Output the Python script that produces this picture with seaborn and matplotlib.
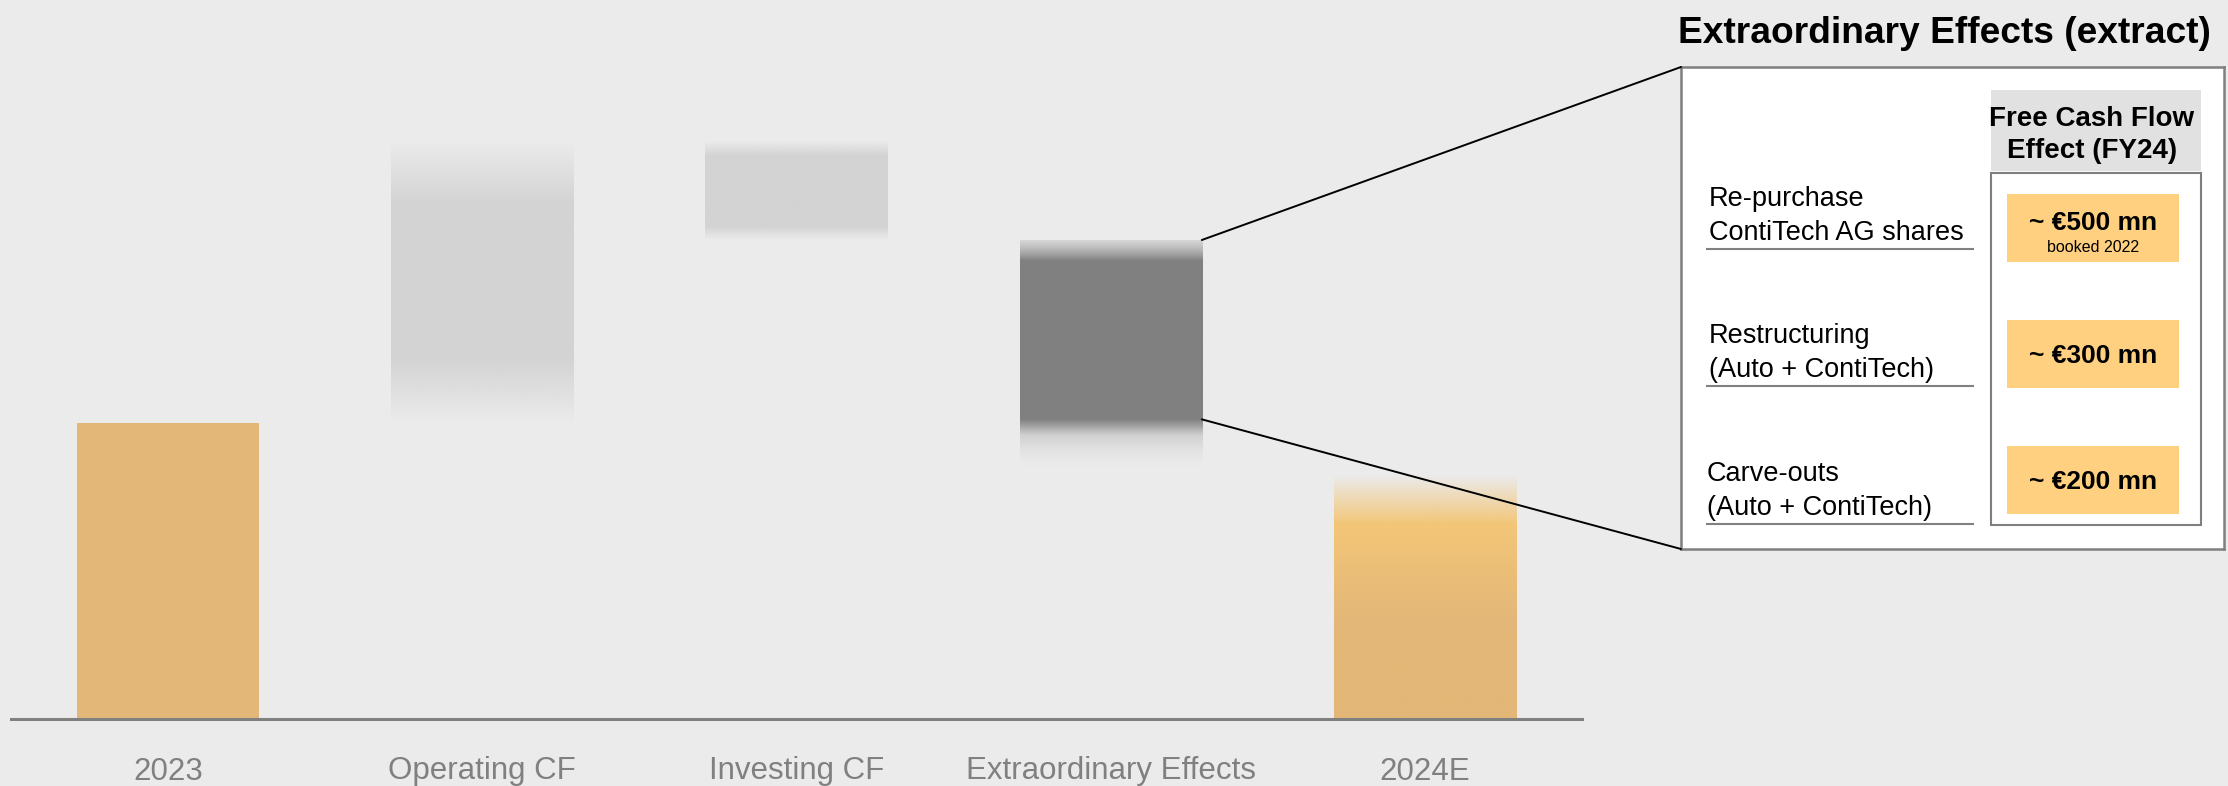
import numpy as np
import matplotlib
matplotlib.use("Agg")
import matplotlib.pyplot as plt
from matplotlib.colors import to_rgba
from matplotlib.patches import Rectangle, ConnectionPatch
import seaborn as sns

# waterfall (units, baseline = 0)
categories = ["2023", "Operating CF", "Investing CF", "Extraordinary Effects", "2024E"]
step_values = [2.96, 2.81, -0.98, -2.27, 2.44]
step_kind = ["total", "delta", "delta", "delta", "total"]

# extract table on the right
table_title = "Extraordinary Effects (extract)"
column_header = ["Free Cash Flow", "Effect (FY24)"]
effect_labels = [["Re-purchase", "ContiTech AG shares"],
                 ["Restructuring", "(Auto + ContiTech)"],
                 ["Carve-outs", "(Auto + ContiTech)"]]
effect_values = ["~ €500 mn", "~ €300 mn", "~ €200 mn"]
effect_notes = ["booked 2022", "", ""]

BG = "#EBEBEB"
GOLD = "#E3B777"
GOLD_LIGHT = "#F3C678"
CELL = "#FFD07F"
FRAME = "#7F7F7F"
bar_colors = [GOLD, "#D3D3D3", "#D3D3D3", "#808080", GOLD]

sns.set_theme(style="white")
plt.rcParams["font.family"] = ["Liberation Sans", "DejaVu Sans"]
plt.rcParams["figure.facecolor"] = BG
plt.rcParams["axes.facecolor"] = BG

# floating bar ranges
lows, highs = [], []
level = 0.0
for v, k in zip(step_values, step_kind):
    if k == "total":
        lo, hi = 0.0, v
        level = v
    else:
        lo, hi = sorted([level, level + v])
        level += v
    lows.append(lo)
    highs.append(hi)
heights = [h - l for h, l in zip(highs, lows)]

# fade profiles, position measured from the top of each bar (0) to its bottom (1)
fades = {
    "Operating CF": [(0.0, "#D3D3D3", 0.0), (0.22, "#D3D3D3", 1.0),
                     (0.77, "#D3D3D3", 1.0), (1.0, "#D3D3D3", 0.0)],
    "Investing CF": [(0.0, "#D3D3D3", 0.0), (0.15, "#D3D3D3", 1.0),
                     (0.86, "#D3D3D3", 1.0), (1.0, "#D3D3D3", 0.0)],
    "Extraordinary Effects": [(0.0, "#C8C8C8", 0.6), (0.09, "#808080", 1.0),
                              (0.79, "#808080", 1.0), (0.86, "#D0D0D0", 1.0),
                              (1.0, "#E6E6E6", 0.0)],
    "2024E": [(0.0, GOLD_LIGHT, 0.0), (0.2, GOLD_LIGHT, 1.0),
              (0.6, GOLD, 1.0), (1.0, GOLD, 1.0)],
}


def fill_gradient(ax, patch, stops, n=400):
    x0, y0 = patch.get_x(), patch.get_y()
    w, h = patch.get_width(), patch.get_height()
    pos = np.linspace(0, 1, n)
    fr = [s[0] for s in stops]
    cols = np.array([to_rgba(c, a) for _, c, a in stops])
    img = np.stack([np.interp(pos, fr, cols[:, i]) for i in range(4)], axis=1)[:, None, :]
    ax.imshow(img, extent=(x0, x0 + w, y0, y0 + h), origin="upper",
              aspect="auto", interpolation="bilinear", zorder=2)
    patch.set_visible(False)


fig = plt.figure(figsize=(22.28, 7.86), dpi=100)
W, H = 2228, 786

# main waterfall axes
ax = fig.add_axes([11 / W, 1 - 719 / H, 1571 / W, 619 / H])
sns.barplot(x=categories, y=heights, bottom=lows, color=GOLD,
            width=0.58, linewidth=0, saturation=1, ax=ax)
for patch, cat, col in zip(ax.patches, categories, bar_colors):
    patch.set_facecolor(col)
    if cat in fades:
        fill_gradient(ax, patch, fades[cat])
ax.set_xlim(-0.5, 4.5)
ax.set_ylim(0, 6.19)
ax.set_yticks([])
ax.set_xlabel("")
ax.set_ylabel("")
for s in ["top", "left", "right"]:
    ax.spines[s].set_visible(False)
ax.spines["bottom"].set_color("#808080")
ax.spines["bottom"].set_linewidth(2.2)
ax.tick_params(axis="x", length=0, pad=27, labelsize=22.5, labelcolor="#808080")

# extract table axes (rows in row units, x in box fraction)
tab = fig.add_axes([1681 / W, 1 - 549 / H, 543 / W, 482 / H])
tab.set_facecolor("white")
rows = np.arange(len(effect_values))
tab.barh(rows, 0.317, left=0.600, height=0.54, color=CELL, linewidth=0, zorder=3)
tab.set_xlim(0, 1)
tab.set_ylim(2.548, -1.278)
tab.set_xticks([])
tab.set_yticks([])
for s in tab.spines.values():
    s.set_color(FRAME)
    s.set_linewidth(1.8)

# column frame and header
tab.add_patch(Rectangle((0.570, -1.095), 0.387, 0.643, facecolor="#E1E1E1",
                        edgecolor="none", zorder=1))
tab.add_patch(Rectangle((0.570, -0.437), 0.387, 2.794, facecolor="white",
                        edgecolor=FRAME, linewidth=1.5, zorder=1))
tab.text(0.757, -0.810, column_header[0], ha="center", va="baseline",
         fontsize=20, fontweight="bold", color="black")
tab.text(0.757, -0.556, column_header[1], ha="center", va="baseline",
         fontsize=20, fontweight="bold", color="black")

label_pitch = 1.09
for r in rows:
    note = effect_notes[r]
    main_y = r + (0.016 if note else 0.075)
    tab.text(0.759, main_y, effect_values[r], ha="center", va="baseline",
             fontsize=19, fontweight="bold", color="black", zorder=4)
    if note:
        tab.text(0.759, r + 0.19, note, ha="center", va="baseline",
                 fontsize=11.5, color="black", zorder=4)
    ly = r * label_pitch
    lx = 0.047 if r == 2 else 0.052
    tab.text(lx, ly - 0.175, effect_labels[r][0], ha="left", va="baseline",
             fontsize=19.5, color="black")
    tab.text(lx, ly + 0.095, effect_labels[r][1], ha="left", va="baseline",
             fontsize=19.5, color="black")
    tab.hlines(ly + 0.167, 0.046, 0.540, color="#808080", linewidth=1.5)

tab.text(0.486, 1.0498, table_title, transform=tab.transAxes, ha="center",
         va="baseline", fontsize=26.7, fontweight="bold", color="black")

# connector lines from the extraordinary bar to the table
ext = categories.index("Extraordinary Effects")
bar_right = ext + 0.29
core_bottom = highs[ext] - 0.79 * heights[ext]
for ya, yb in [(highs[ext], 1.0), (core_bottom, 0.0)]:
    con = ConnectionPatch(xyA=(bar_right, ya), coordsA=ax.transData,
                          xyB=(0.0, yb), coordsB=tab.transAxes,
                          color="black", linewidth=1.4, zorder=5)
    fig.add_artist(con)

fig.savefig("out.png", dpi=100, facecolor=BG)
